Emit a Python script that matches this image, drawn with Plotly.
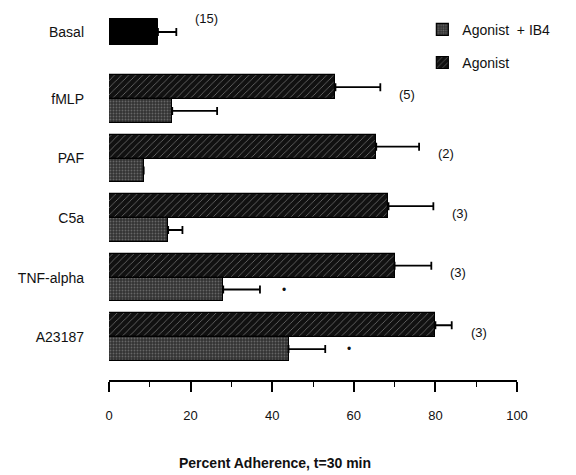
import plotly.graph_objects as go

# ---- data ----
categories = ["Basal", "fMLP", "PAF", "C5a", "TNF-alpha", "A23187"]
basal_mean = 12
basal_err = 4.5
agonist = [None, 55.5, 65.5, 68.5, 70, 80]
agonist_err = [None, 11, 10.5, 11, 9, 4]
ib4 = [None, 15.5, 8.5, 14.5, 28, 44]
ib4_err = [None, 11, None, 3.5, 9, 9]
n_labels = ["(15)", "(5)", "(2)", "(3)", "(3)", "(3)"]
significant = [False, False, False, False, True, True]
tick_vals = [0, 20, 40, 60, 80, 100]

FONT = "Liberation Sans, Arial, Helvetica, sans-serif"
INK = "#111111"
idx = list(range(len(categories)))
W = 0.40  # bar thickness (data units)
BASAL_SHIFT = -0.126

fig = go.Figure()

# Agonist (hatched)
fig.add_trace(go.Bar(
    y=idx, x=agonist, orientation="h", name="Agonist",
    width=W, offset=-W, legendrank=2, legendgroup="a",
    marker=dict(color="#111111", line=dict(color="#000", width=1.2),
                pattern=dict(shape="/", fgcolor="#d8d8d8", bgcolor="#111111",
                             size=5, solidity=0.15)),
    error_x=dict(type="data", symmetric=False, array=agonist_err,
                 arrayminus=[0] * len(idx), color="#000", thickness=1.8, width=4),
))
# Agonist + IB4 (stippled)
fig.add_trace(go.Bar(
    y=idx, x=ib4, orientation="h", name="Agonist  + IB4",
    width=W, offset=0, legendrank=1, legendgroup="b",
    marker=dict(color="#3a3a3a", line=dict(color="#000", width=1.2),
                pattern=dict(shape=".", fgcolor="#9a9a9a", bgcolor="#333333",
                             size=3, solidity=0.3)),
    error_x=dict(type="data", symmetric=False, array=ib4_err,
                 arrayminus=[0] * len(idx), color="#000", thickness=1.8, width=4),
))
# Basal (solid black)
fig.add_trace(go.Bar(
    y=[0], x=[basal_mean], orientation="h", name="Basal", showlegend=False,
    width=0.44, offset=BASAL_SHIFT - 0.22,
    marker=dict(color="#000", line=dict(color="#000", width=1)),
    error_x=dict(type="data", symmetric=False, array=[basal_err], arrayminus=[0],
                 color="#000", thickness=1.8, width=4),
))

# n labels
for i in idx:
    if i == 0:
        xe = basal_mean + basal_err
        yy = -0.35
    else:
        xe = agonist[i] + agonist_err[i]
        yy = i - 0.08
    fig.add_annotation(x=xe, y=yy, text=n_labels[i], showarrow=False,
                       xanchor="left", xshift=17,
                       font=dict(family=FONT, size=13, color=INK))
    if significant[i]:
        e = ib4_err[i] or 0
        fig.add_annotation(x=ib4[i] + e, y=i + W / 2, text="•", showarrow=False,
                           xanchor="center", xshift=24,
                           font=dict(family=FONT, size=12, color=INK))

fig.add_annotation(xref="paper", yref="paper", x=0.408, y=-0.252,
                   text="<b>Percent Adherence, t=30 min</b>", showarrow=False,
                   font=dict(family=FONT, size=14, color=INK))

tick_pos = [i + (BASAL_SHIFT if i == 0 else 0) for i in idx]

fig.update_layout(
    width=576, height=475,
    margin=dict(l=108.5, r=59, t=10, b=95),
    paper_bgcolor="white", plot_bgcolor="white",
    barmode="overlay", bargap=0,
    font=dict(family=FONT, size=13, color=INK),
    legend=dict(x=0.768, y=0.99, xanchor="left", yanchor="top",
                bgcolor="rgba(0,0,0,0)", font=dict(size=14, family=FONT),
                tracegroupgap=12, traceorder="grouped"),
    xaxis=dict(range=[0, 100], tickvals=tick_vals, showgrid=False, zeroline=False,
               showline=True, linecolor="#000", linewidth=1.5,
               ticks="outside", ticklen=10, tickwidth=1.5, tickcolor="#000",
               ticklabelstandoff=13,
               minor=dict(dtick=10, ticks="outside", ticklen=5, tickwidth=1.2,
                          tickcolor="#000", showgrid=False),
               tickfont=dict(size=13, family=FONT, color=INK)),
    yaxis=dict(range=[5.72, -0.496], tickvals=tick_pos, ticktext=categories,
               showgrid=False, zeroline=False, showline=False, ticks="",
               ticklabelstandoff=24,
               tickfont=dict(size=14, family=FONT, color=INK)),
)

fig.write_html("out.html")
